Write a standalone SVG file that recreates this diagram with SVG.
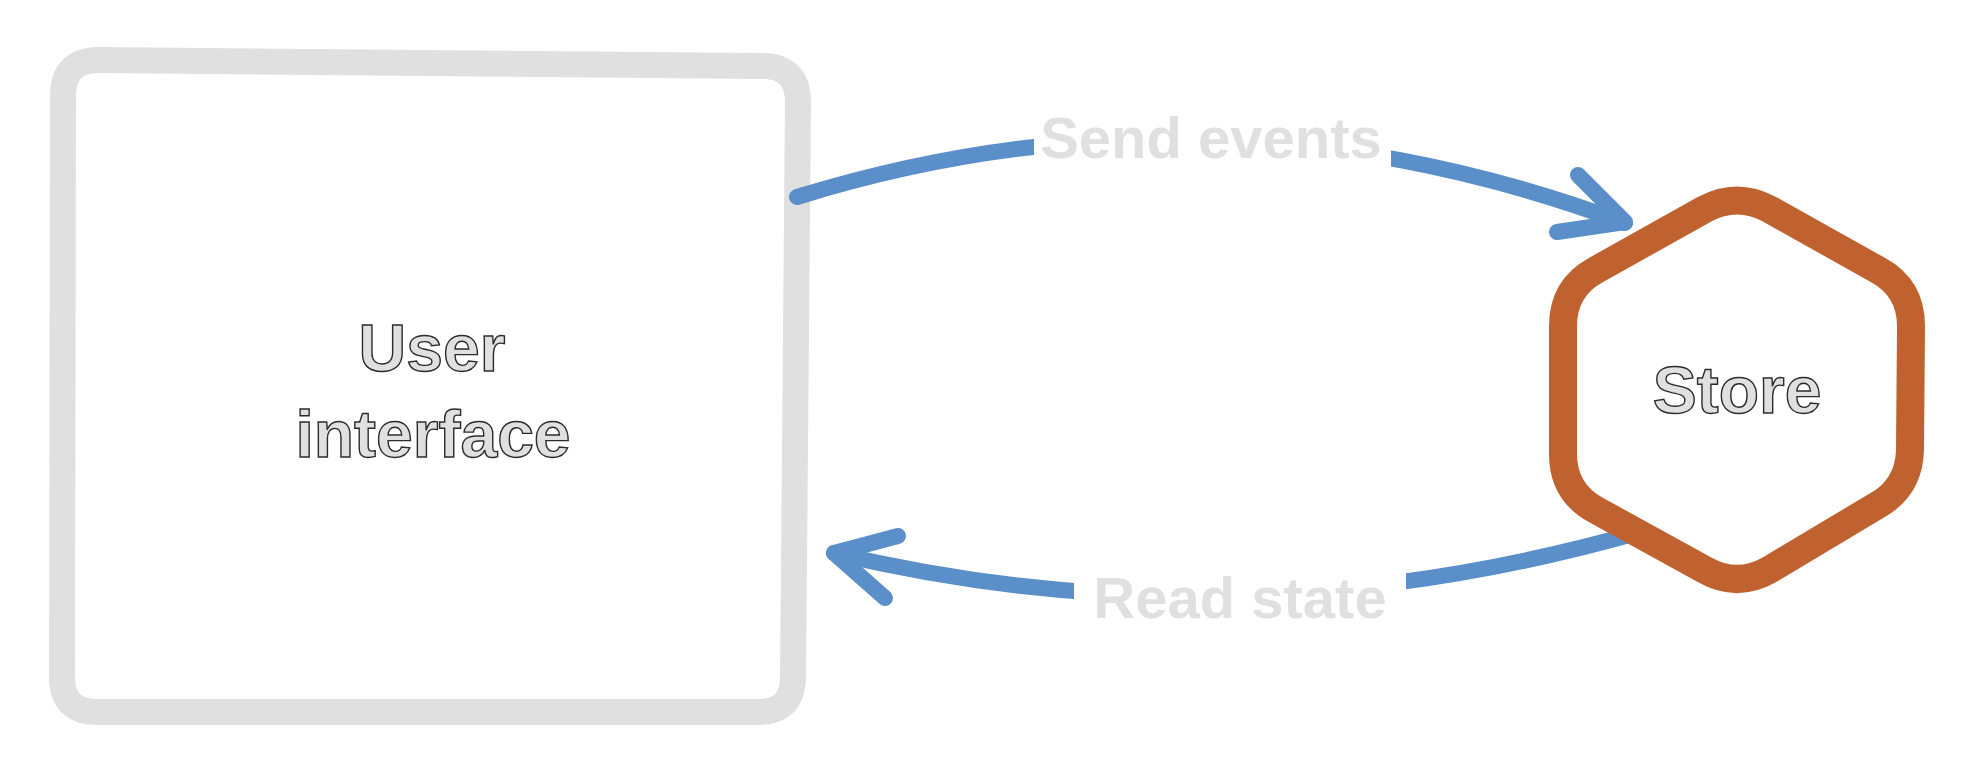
<svg xmlns="http://www.w3.org/2000/svg" width="1975" height="777" viewBox="0 0 1975 777">
  <style>
    .nodetext { font-family: "Liberation Sans", Arial, sans-serif; font-weight: 700; font-size: 66px; fill: #e0e0e0; stroke: #2b2b2b; stroke-width: 1.4px; text-anchor: middle; }
    .label { font-family: "Liberation Sans", Arial, sans-serif; font-weight: 700; font-size: 58px; fill: #e0e0e0; text-anchor: middle; }
    .conn { fill: none; stroke: #5a8fca; stroke-width: 16; stroke-linecap: round; stroke-linejoin: round; }
  </style>
  <defs>
    <mask id="gapTop" maskUnits="userSpaceOnUse" x="0" y="0" width="1975" height="777">
      <rect x="0" y="0" width="1975" height="777" fill="#fff"/>
      <rect x="1034" y="95" width="357" height="90" fill="#000"/>
    </mask>
    <mask id="gapBottom" maskUnits="userSpaceOnUse" x="0" y="0" width="1975" height="777">
      <rect x="0" y="0" width="1975" height="777" fill="#fff"/>
      <rect x="1074" y="555" width="332" height="90" fill="#000"/>
    </mask>
  </defs>
  <rect x="0" y="0" width="1975" height="777" fill="#ffffff"/>

  <g id="user-interface">
    <path d="M 63 96 Q 63 60 99 60 L 762 66 Q 798 66 798 102 L 793 677 Q 793 712 758 712 L 97 712 Q 62 712 62 677 Z" fill="#ffffff" stroke="#e0e0e0" stroke-width="26" stroke-linejoin="round"/>
    <text class="nodetext" x="432" y="371">User</text>
    <text class="nodetext" x="433" y="457">interface</text>
  </g>

  <g id="connectors">
    <g id="send-events">
      <path class="conn" d="M 797 197 Q 1211 69 1625 223" mask="url(#gapTop)"/>
      <path class="conn" d="M 1578 175 L 1625 222 L 1557 232"/>
      <text class="label" x="1211" y="158">Send events</text>
    </g>
    <g id="read-state">
      <path class="conn" d="M 1640 532 Q 1232 648 834 553" mask="url(#gapBottom)"/>
      <path class="conn" d="M 898 536 L 834 553 L 885 598"/>
      <text class="label" x="1240" y="618">Read state</text>
    </g>
  </g>

  <g id="store">
    <path d="M 1705 209 Q 1737 192 1769 209 L 1878 270 Q 1911 288 1911 326 L 1910 450 Q 1909 488 1876 506 L 1769 570 Q 1737 588 1705 570 L 1596 510 Q 1563 492 1563 454 L 1563 326 Q 1563 288 1596 270 Z" fill="#ffffff" stroke="#c0622f" stroke-width="28" stroke-linejoin="round"/>
    <text class="nodetext" x="1737" y="413">Store</text>
  </g>
</svg>
